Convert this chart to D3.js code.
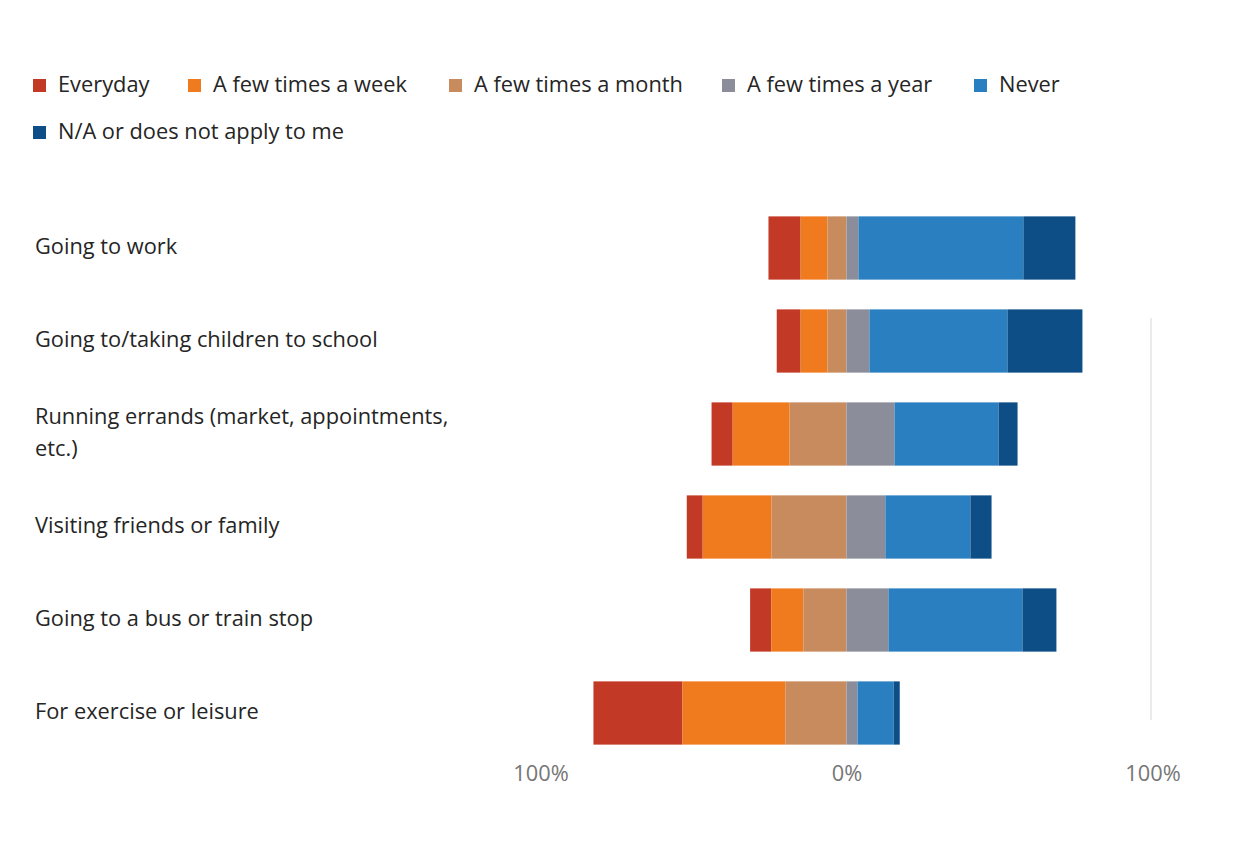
<!DOCTYPE html>
<html>
<head>
<meta charset="utf-8">
<script src="https://cdn.jsdelivr.net/npm/d3@7"></script>
<style>
  html, body { margin: 0; padding: 0; background: #ffffff; }
  svg { display: block; font-family: "Open Sans", "Noto Sans", sans-serif; }
</style>
</head>
<body>
<svg id="chart" width="1241" height="846"></svg>
<script>
// ---- data ----
const categories = [
  "Going to work",
  "Going to/taking children to school",
  "Running errands (market, appointments, etc.)",
  "Visiting friends or family",
  "Going to a bus or train stop",
  "For exercise or leisure"
];
const seriesNames = ["Everyday", "A few times a week", "A few times a month", "A few times a year", "Never", "N/A or does not apply to me"];
const everyday      = [10.5, 7.8, 6.9, 5.2, 6.9, 29.1];
const fewWeek       = [8.8, 8.8, 18.6, 22.5, 10.5, 33.7];
const fewMonth      = [6.2, 6.2, 18.6, 24.5, 14.1, 19.9];
const fewYear       = [3.9, 7.5, 15.7, 12.7, 13.7, 3.6];
const never         = [53.9, 45.1, 34.0, 27.8, 43.8, 11.8];
const notApplicable = [17.0, 24.5, 6.2, 6.9, 11.1, 2.0];
const tickValues = [-100, 0, 100];
const seriesColors = ["#c23a26", "#f07b1e", "#c78b5d", "#8b8d9b", "#2a7fc0", "#0d4e86"];

// ---- build ----
const seriesValues = [everyday, fewWeek, fewMonth, fewYear, never, notApplicable];
const negativeCount = 3; // first three series sit left of zero

const svg = d3.select("#chart");

const x = d3.scaleLinear().domain([-100, 100]).range([540.5, 1152.5]);
const y = d3.scaleBand().domain(categories).range([201.5, 759.5]).paddingInner(0.32).paddingOuter(0.16);

// faint grid line near +100%
svg.append("line")
  .attr("x1", x(100) - 1.5).attr("x2", x(100) - 1.5)
  .attr("y1", 318).attr("y2", 720)
  .attr("stroke", "#e4e4e4").attr("stroke-width", 1.5);

// segments
const segs = [];
categories.forEach((c, i) => {
  let negTotal = 0;
  for (let s = 0; s < negativeCount; s++) negTotal += seriesValues[s][i];
  let cur = -negTotal;
  seriesValues.forEach((arr, s) => {
    const v = arr[i];
    segs.push({cat: c, s, x0: cur, x1: cur + v});
    cur += v;
  });
});

svg.append("g").selectAll("rect").data(segs).join("rect")
  .attr("x", d => x(d.x0))
  .attr("width", d => x(d.x1) - x(d.x0))
  .attr("y", d => y(d.cat))
  .attr("height", y.bandwidth())
  .attr("fill", d => seriesColors[d.s]);

// category labels
const wrapAt = {"Running errands (market, appointments, etc.)": ["Running errands (market, appointments,", "etc.)"]};
const lab = svg.append("g");
categories.forEach(c => {
  const lines = wrapAt[c] || [c];
  const cy = y(c) + y.bandwidth() / 2;
  const lh = 32;
  const t = lab.append("text")
    .attr("x", 35)
    .attr("fill", "#252525")
    .attr("font-size", 21.8);
  lines.forEach((ln, k) => {
    t.append("tspan")
      .attr("x", 35)
      .attr("y", cy + (k - (lines.length - 1) / 2) * lh + 0.5)
      .attr("dominant-baseline", "middle")
      .text(ln);
  });
});

// axis
const axis = d3.axisBottom(x).tickValues(tickValues).tickSize(0).tickPadding(6)
  .tickFormat(d => Math.abs(d) + "%");
const ag = svg.append("g").attr("transform", "translate(0,760)").call(axis);
ag.select(".domain").remove();
ag.selectAll("text").attr("font-size", 21.8).attr("fill", "#767676")
  .attr("font-family", "'Open Sans', 'Noto Sans', sans-serif");

// legend
const legendPos = [
  {x: 33, y: 85}, {x: 188, y: 85}, {x: 449, y: 85}, {x: 722, y: 85}, {x: 974, y: 85},
  {x: 33, y: 132}
];
const lg = svg.append("g");
seriesNames.forEach((n, i) => {
  const p = legendPos[i];
  const g = lg.append("g").attr("transform", `translate(${p.x},${p.y})`);
  g.append("rect").attr("x", 0).attr("y", -6).attr("width", 13).attr("height", 13)
    .attr("fill", seriesColors[i]);
  g.append("text").attr("x", 25).attr("y", 1).attr("dominant-baseline", "middle")
    .attr("font-size", 21.8).attr("fill", "#252525").text(n);
});
</script>
</body>
</html>
